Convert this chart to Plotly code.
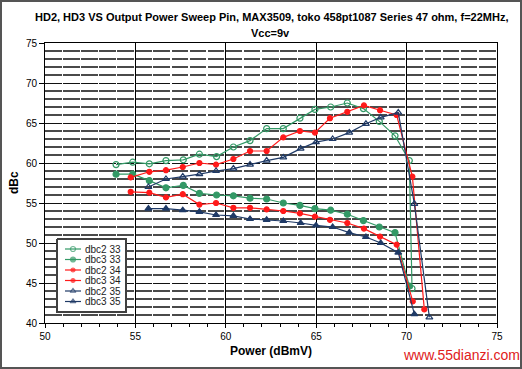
import plotly.graph_objects as go

# ---- data ----
x33 = [53.93, 54.85, 55.77, 56.69, 57.65, 58.54, 59.49, 60.42, 61.34, 62.26,
       63.18, 64.10, 64.93, 65.80, 66.72, 67.61, 68.49, 69.36, 70.15, 70.30]
dbc2_33 = [59.8, 60.1, 59.9, 60.3, 60.4, 61.1, 60.8, 62.0, 62.8, 64.3,
           64.3, 65.6, 66.7, 67.0, 67.5, 66.8, 65.2, 63.4, 60.3, 44.3]
x33b = x33[:19]
dbc3_33 = [58.6, 58.6, 57.8, 56.9, 57.2, 56.2, 56.0, 55.9, 55.6, 55.5,
           55.0, 54.7, 54.3, 54.1, 53.6, 52.8, 52.0, 51.3, 44.6]

x34 = [54.74, 55.77, 56.69, 57.62, 58.54, 59.46, 60.42, 61.34, 62.26, 63.18,
       64.10, 64.93, 65.76, 66.72, 67.64, 68.53, 69.45, 70.32, 70.98]
dbc2_34 = [58.2, 58.9, 59.1, 59.5, 60.0, 59.8, 60.5, 61.5, 61.5, 63.2,
           64.0, 63.8, 65.6, 66.4, 67.2, 66.6, 66.0, 58.3, 41.7]
x34b = x34[:17] + [70.34]
dbc3_34 = [56.4, 56.3, 55.7, 56.1, 54.8, 55.0, 54.4, 54.4, 54.2, 54.0,
           53.7, 53.3, 52.9, 52.5, 51.8, 50.8, 49.8, 42.7]

x35 = [55.72, 56.69, 57.62, 58.54, 59.46, 60.42, 61.34, 62.26, 63.18, 64.14,
       64.99, 65.91, 66.83, 67.75, 68.57, 69.54, 70.43, 71.26]
dbc2_35 = [57.0, 58.0, 58.3, 58.6, 59.0, 59.3, 59.8, 60.3, 60.7, 61.8,
           62.6, 63.0, 63.8, 64.9, 65.7, 66.3, 54.9, 40.7]
x35b = x35[:17]
dbc3_35 = [54.3, 54.3, 54.1, 53.9, 53.5, 53.4, 53.0, 52.9, 52.75, 52.5,
           52.2, 52.0, 51.3, 50.75, 50.0, 48.8, 41.1]

GREEN = "#339966"
RED = "#FF1A1A"
NAVY = "#1F3A66"

FONT = "Liberation Sans, Arial, sans-serif"

W, H = 522, 369
ML, MR, MT, MB = 45, 25, 43, 46
PW, PH = W - ML - MR, H - MT - MB


def px_x(p):  # page pixel -> paper x
    return (p - ML) / PW


def px_y(p):  # page pixel -> paper y
    return (MT + PH - p) / PH


fig = go.Figure()

series = [
    ("dbc2 33", x33, dbc2_33, GREEN, "circle-open", 6),
    ("dbc3 33", x33b, dbc3_33, GREEN, "circle", 6),
    ("dbc2 34", x34, dbc2_34, RED, "circle", 5),
    ("dbc3 34", x34b, dbc3_34, RED, "circle", 5),
    ("dbc2 35", x35, dbc2_35, NAVY, "triangle-up-open", 6),
    ("dbc3 35", x35b, dbc3_35, NAVY, "triangle-up", 6),
]
for name, xs, ys, col, sym, sz in series:
    fig.add_trace(go.Scatter(
        x=xs, y=ys, name=name, mode="lines+markers", showlegend=False,
        line=dict(color=col, width=1.2),
        marker=dict(symbol=sym, size=sz, color=col, line=dict(color=col, width=1.2)),
    ))

# ---- hand-built legend on a pixel-coordinate overlay axis ----
LX0, LY0, LX1, LY1 = 57, 239, 126, 312
fig.add_trace(go.Scatter(
    x=[LX0, LX1, LX1, LX0, LX0], y=[LY0, LY0, LY1, LY1, LY0],
    xaxis="x2", yaxis="y2", mode="lines", fill="toself", fillcolor="white",
    line=dict(color="#404040", width=2), showlegend=False, hoverinfo="skip",
))
annotations = []
row_h = 10.5
for i, (name, xs, ys, col, sym, sz) in enumerate(series):
    cy = LY0 + 10 + i * row_h
    fig.add_trace(go.Scatter(
        x=[65, 73, 81], y=[cy, cy, cy], xaxis="x2", yaxis="y2",
        mode="lines+markers", showlegend=False, hoverinfo="skip",
        line=dict(color=col, width=1.2),
        marker=dict(symbol=sym, size=[0, sz - 1, 0], color=col, line=dict(color=col, width=1.2)),
    ))
    annotations.append(dict(
        text=name, xref="x2", yref="y2", x=83, y=cy, xanchor="left", yanchor="middle",
        showarrow=False, font=dict(family=FONT, size=10, color="#222222"),
    ))

# titles and watermark
annotations += [
    dict(text="<b>HD2, HD3 VS Output Power Sweep Pin, MAX3509, toko 458pt1087 Series 47 ohm, f=22MHz,</b>",
         xref="paper", yref="paper", x=px_x(271), y=px_y(17), xanchor="center", yanchor="middle",
         showarrow=False, font=dict(family=FONT, size=11, color="black")),
    dict(text="<b>Vcc=9v</b>",
         xref="paper", yref="paper", x=px_x(270), y=px_y(33), xanchor="center", yanchor="middle",
         showarrow=False, font=dict(family=FONT, size=11, color="black")),
    dict(text="<b>Power (dBmV)</b>",
         xref="paper", yref="paper", x=px_x(271), y=px_y(351), xanchor="center", yanchor="middle",
         showarrow=False, font=dict(family=FONT, size=12, color="black")),
    dict(text="<b>dBc</b>", textangle=-90,
         xref="paper", yref="paper", x=px_x(14), y=px_y(183), xanchor="center", yanchor="middle",
         showarrow=False, font=dict(family=FONT, size=12, color="black")),
    dict(text="www.55dianzi.com", xref="paper", yref="paper",
         x=px_x(461), y=px_y(355), xanchor="center", yanchor="middle",
         showarrow=False, font=dict(family=FONT, size=14, color="#E02020")),
]

shapes = [dict(type="rect", xref="paper", yref="paper",
               x0=px_x(1), x1=px_x(W - 1), y0=px_y(H - 1), y1=px_y(1),
               line=dict(color="#555555", width=2), layer="below")]

DASH = "16.58px,1.5px"

fig.update_layout(
    width=W, height=H,
    margin=dict(l=ML, r=MR, t=MT, b=MB),
    paper_bgcolor="white", plot_bgcolor="white",
    font=dict(family=FONT, size=10, color="black"),
    showlegend=False,
    xaxis=dict(
        range=[50, 75], dtick=5, tick0=50, showgrid=True, gridcolor="black", gridwidth=1,
        ticks="outside", ticklen=4, tickcolor="black",
        showline=True, linecolor="black", linewidth=1, mirror=True,
        minor=dict(dtick=1, ticks="outside", ticklen=3, tickcolor="black", showgrid=False),
        zeroline=False,
    ),
    yaxis=dict(
        range=[40, 75], dtick=5, tick0=40, showgrid=True, gridcolor="#111111", gridwidth=1,
        griddash=DASH,
        ticks="outside", ticklen=5, tickcolor="black",
        showline=True, linecolor="black", linewidth=1, mirror=True,
        minor=dict(dtick=1, showgrid=True, gridcolor="#4a4a4a", gridwidth=1.5, griddash=DASH),
        zeroline=False,
    ),
    xaxis2=dict(range=[ML, ML + PW], overlaying="x", anchor="y2", visible=False,
                showgrid=False, zeroline=False),
    yaxis2=dict(range=[MT + PH, MT], overlaying="y", anchor="x2", visible=False,
                showgrid=False, zeroline=False),
    shapes=shapes,
    annotations=annotations,
)

fig.write_html("out.html", config={"displayModeBar": False},
               post_script="document.body.style.margin='0';document.body.style.overflow='hidden';")
